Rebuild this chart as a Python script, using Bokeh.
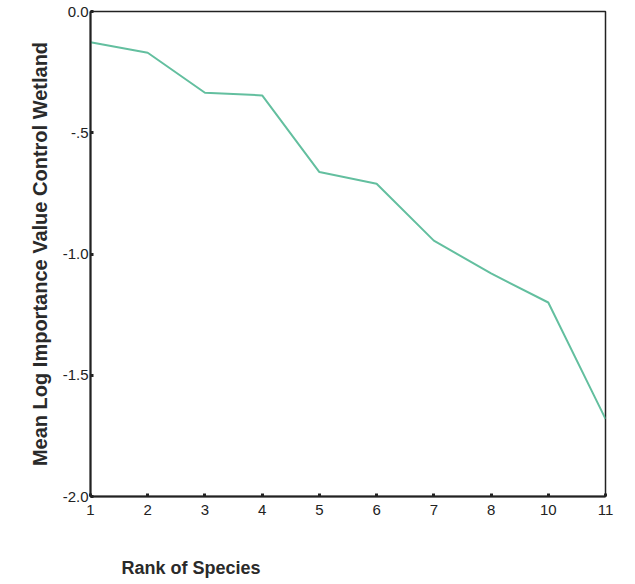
from bokeh.plotting import figure
from bokeh.models import Range1d, FixedTicker, Label
from bokeh.layouts import column
from bokeh.embed import file_html
from bokeh.resources import INLINE

ranks = ["1", "2", "3", "4", "5", "6", "7", "8", "10", "11"]
mean_log_iv = [-0.127, -0.170, -0.335, -0.346, -0.662, -0.710, -0.945, -1.08, -1.20, -1.68]
y_ticks = [0.0, -0.5, -1.0, -1.5, -2.0]
y_tick_labels = ["0.0", "-.5", "-1.0", "-1.5", "-2.0"]
x_title_text = "Rank of Species"
y_title_text = "Mean Log Importance Value Control Wetland"

xs = list(range(len(ranks)))

p = figure(width=635, height=545, output_backend="svg", toolbar_location=None,
           x_range=Range1d(0, len(ranks) - 1), y_range=Range1d(-2.0, 0.0),
           min_border_left=90, min_border_right=30, min_border_top=11, min_border_bottom=49)

p.line(xs, mean_log_iv, line_color="#63bf9f", line_width=2)

p.xgrid.visible = False
p.ygrid.visible = False
p.outline_line_color = "#222222"
p.outline_line_width = 1.5
p.background_fill_color = "white"
p.border_fill_color = "white"

p.xaxis.ticker = FixedTicker(ticks=xs)
p.xaxis.major_label_overrides = {i: r for i, r in enumerate(ranks)}
p.yaxis.ticker = FixedTicker(ticks=y_ticks)
p.yaxis.major_label_overrides = {t: l for t, l in zip(y_ticks, y_tick_labels)}

for ax in (p.xaxis[0], p.yaxis[0]):
    ax.axis_line_color = "#222222"
    ax.axis_line_width = 2
    ax.major_tick_line_color = "#222222"
    ax.major_tick_line_width = 3
    ax.major_tick_in = 3
    ax.major_tick_out = 0
    ax.minor_tick_line_color = None
    ax.major_label_text_font = "Liberation Sans"
    ax.major_label_text_font_size = "15px"
    ax.major_label_text_color = "#222222"

p.xaxis.major_label_standoff = 8
p.yaxis.major_label_standoff = 2

p.yaxis.axis_label = y_title_text
p.yaxis.axis_label_text_font = "Liberation Sans"
p.yaxis.axis_label_text_font_size = "20px"
p.yaxis.axis_label_text_font_style = "bold"
p.yaxis.axis_label_text_color = "#2a2a2a"
p.yaxis.axis_label_standoff = 9

# strip below the chart holding the x-axis title
p2 = figure(width=635, height=39, output_backend="svg", toolbar_location=None,
            x_range=Range1d(0, 635), y_range=Range1d(0, 39),
            min_border=0, min_border_left=0, min_border_right=0,
            min_border_top=0, min_border_bottom=0)
p2.axis.visible = False
p2.grid.visible = False
p2.outline_line_color = None
p2.background_fill_color = "white"
p2.border_fill_color = "white"
p2.add_layout(Label(x=31, y=17, x_units="screen", y_units="screen",
                    text=x_title_text, text_font="Liberation Sans",
                    text_font_size="18px", text_font_style="bold",
                    text_color="#2a2a2a", text_baseline="middle", text_align="left"))

layout = column(p, p2, spacing=0)
open("out.html", "w").write(file_html(layout, INLINE))
